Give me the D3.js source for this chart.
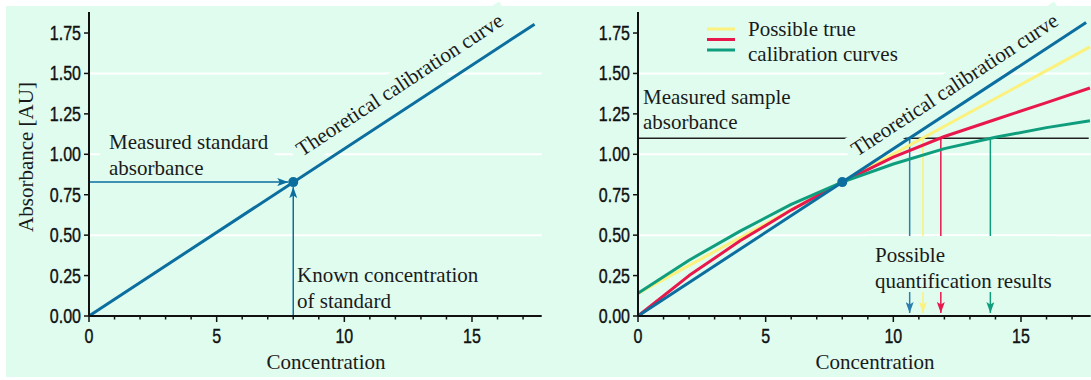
<!DOCTYPE html>
<html>
<head>
<meta charset="utf-8">
<script src="https://cdn.jsdelivr.net/npm/d3@7"></script>
<style>
  body { margin: 0; background: #fff; }
  .tick-label { font-family: "Liberation Sans", Arial, sans-serif; font-size: 20px; fill: #111; }
  .note { font-family: "Liberation Serif", "Times New Roman", serif; font-size: 21px; fill: #1a1a1a; }
</style>
</head>
<body>
<div id="chart"></div>
<script>
// ---- data ----
const concTicks = [0, 5, 10, 15];
const concMinor = [0, 1, 2, 3, 4, 5, 6, 7, 8, 9, 10, 11, 12, 13, 14, 15, 16, 17];
const absTicks = [0, 0.25, 0.5, 0.75, 1.0, 1.25, 1.5, 1.75];
const gridValues = [0.5, 1.0, 1.5];

const theoreticalConc = [0, 17.55];
const theoreticalAbs = [0, 1.815];

const yellowConc = [0, 17.7];
const yellowAbs = [0.14, 1.664];

const redConc = [0, 2, 4, 6, 8, 10, 12, 14, 16, 17.7];
const redAbs = [0, 0.25, 0.465, 0.655, 0.828, 0.982, 1.11, 1.215, 1.32, 1.41];

const greenConc = [0, 2, 4, 6, 8, 10, 12, 14, 16, 17.7];
const greenAbs = [0.14, 0.345, 0.525, 0.69, 0.828, 0.94, 1.035, 1.105, 1.165, 1.208];

const stdConc = 8, stdAbs = 0.828;
const sampleAbs = 1.10;
const quantResults = [10.64, 11.16, 11.86, 13.8];

const legendLabels = ["Possible true", "calibration curves"];

const colors = {
  blue: "#0b6e9f",
  yellow: "#fcf17c",
  red: "#e8184c",
  green: "#0f9d7d",
  bg: "#dffcef"
};
const quantColors = ["#2a7fae", colors.yellow, colors.red, colors.green];

// ---- layout ----
const width = 1091, height = 380;
const svg = d3.select("#chart").append("svg")
  .attr("width", width).attr("height", height);

svg.append("rect").attr("x", 6).attr("y", 6)
  .attr("width", width - 6).attr("height", height - 9)
  .attr("fill", colors.bg);

let defs = svg.append("defs");
function arrowMarker(id, color) {
  defs.append("marker")
    .attr("id", id)
    .attr("markerUnits", "userSpaceOnUse")
    .attr("viewBox", "0 0 11 8")
    .attr("markerWidth", 11).attr("markerHeight", 8)
    .attr("refX", 11).attr("refY", 4)
    .attr("orient", "auto")
    .append("path")
    .attr("d", "M0,0 L11,4 L0,8 L2.5,4 Z")
    .attr("fill", color);
}
arrowMarker("arr-blue", colors.blue);
quantColors.forEach((c, i) => arrowMarker("arr-q" + i, c));

const y = d3.scaleLinear().domain([0, 1.88]).range([316, 12]);

const line = (xs) => d3.line()
  .x(d => xs(d[0]))
  .y(d => y(d[1]));

function zip(a, b) { return a.map((v, i) => [v, b[i]]); }

// multi-line text with a background box the colour of the panel
function note(g, lines, x, yBase, lineH, pad) {
  let grp = g.append("g");
  let bg = grp.append("rect").attr("fill", colors.bg);
  let t = grp.append("text").attr("class", "note");
  lines.forEach((l, i) => {
    t.append("tspan").attr("x", x).attr("y", yBase + i * lineH).text(l);
  });
  let bb = t.node().getBBox();
  bg.attr("x", bb.x - pad[3]).attr("y", bb.y - pad[0])
    .attr("width", bb.width + pad[1] + pad[3])
    .attr("height", bb.height + pad[0] + pad[2]);
  return grp;
}

function drawPanel(x0) {
  const x = d3.scaleLinear().domain([0, 17.73]).range([x0, x0 + 452.7]);
  const g = svg.append("g");

  // white gridlines
  g.selectAll(".grid").data(gridValues).enter().append("line")
    .attr("x1", x(0)).attr("x2", x(17.73))
    .attr("y1", d => y(d)).attr("y2", d => y(d))
    .attr("stroke", "#fff").attr("stroke-width", 2);

  return {x, g};
}

// condensed tick text: regular sans squeezed horizontally
const squeeze = 0.8;

function drawAxes(p) {
  const {x, g} = p;
  // y axis
  g.append("line").attr("x1", x(0)).attr("x2", x(0))
    .attr("y1", y(0)).attr("y2", y(1.88))
    .attr("stroke", "#111").attr("stroke-width", 2);
  g.selectAll(".ytick").data(absTicks).enter().append("line")
    .attr("x1", x(0) - 5).attr("x2", x(0))
    .attr("y1", d => y(d)).attr("y2", d => y(d))
    .attr("stroke", "#111").attr("stroke-width", 1.5);
  g.selectAll(".ylab").data(absTicks).enter().append("text")
    .attr("class", "tick-label")
    .attr("transform", d => `translate(${x(0) - 8},${y(d) + 7}) scale(${squeeze},1)`)
    .attr("text-anchor", "end")
    .style("stroke", "#111").style("stroke-width", 0.4)
    .text(d => d3.format(".2f")(d));

  // x axis
  g.append("line").attr("x1", x(0)).attr("x2", x(17.73))
    .attr("y1", y(0)).attr("y2", y(0))
    .attr("stroke", "#111").attr("stroke-width", 2);
  g.selectAll(".xminor").data(concMinor).enter().append("line")
    .attr("x1", d => x(d)).attr("x2", d => x(d))
    .attr("y1", y(0)).attr("y2", d => y(0) + (concTicks.includes(d) ? 6 : 3.5))
    .attr("stroke", "#111").attr("stroke-width", 1.5);
  g.selectAll(".xlab").data(concTicks).enter().append("text")
    .attr("class", "tick-label")
    .attr("transform", d => `translate(${x(d)},343) scale(${squeeze},1)`)
    .attr("text-anchor", "middle")
    .style("stroke", "#111").style("stroke-width", 0.4)
    .text(d => d);

  g.append("text").attr("class", "note")
    .attr("x", x(0) + 237).attr("y", 369)
    .attr("text-anchor", "middle")
    .text("Concentration");
}

function theoreticalLabel(p, tx, ty) {
  const {x, g} = p;
  const ang = Math.atan2(y(theoreticalAbs[1]) - y(0), x(theoreticalConc[1]) - x(0)) * 180 / Math.PI;
  let grp = g.append("g").attr("transform", `translate(${tx},${ty}) rotate(${ang})`);
  grp.append("rect").attr("x", -6).attr("y", -22).attr("width", 256).attr("height", 32)
    .attr("fill", colors.bg);
  return grp;
}

// ---------- left panel ----------
const L = drawPanel(89);
const lblL = theoreticalLabel(L, 302, 157);
note(L.g, ["Measured standard", "absorbance"], 109, 149, 26, [4, 6, 6, 9]);

L.g.append("path").datum(zip(theoreticalConc, theoreticalAbs).map(d => d[0] > 17.45 ? [17.45, 17.45 * theoreticalAbs[1] / theoreticalConc[1]] : d))
  .attr("d", line(L.x)).attr("fill", "none")
  .attr("stroke", colors.blue).attr("stroke-width", 3);

L.g.append("line")
  .attr("x1", L.x(0)).attr("x2", L.x(stdConc) - 5)
  .attr("y1", y(stdAbs)).attr("y2", y(stdAbs))
  .attr("stroke", colors.blue).attr("stroke-width", 1.5)
  .attr("marker-end", "url(#arr-blue)");
L.g.append("line")
  .attr("x1", L.x(stdConc)).attr("x2", L.x(stdConc))
  .attr("y1", y(0)).attr("y2", y(stdAbs) + 5)
  .attr("stroke", colors.blue).attr("stroke-width", 1.5)
  .attr("marker-end", "url(#arr-blue)");
L.g.append("circle").attr("cx", L.x(stdConc)).attr("cy", y(stdAbs)).attr("r", 5)
  .attr("fill", colors.blue);

lblL.append("text").attr("class", "note").text("Theoretical calibration curve");
note(L.g, ["Known concentration", "of standard"], 297, 282, 26, [0, 0, 0, 0]).select("rect").remove();
drawAxes(L);

L.g.append("text").attr("class", "note")
  .attr("transform", `translate(33,157) rotate(-90)`)
  .attr("text-anchor", "middle")
  .text("Absorbance [AU]");

// ---------- right panel ----------
const R = drawPanel(638);

// measured sample absorbance line
R.g.append("line")
  .attr("x1", R.x(0)).attr("x2", R.x(17.73) - 2)
  .attr("y1", y(sampleAbs)).attr("y2", y(sampleAbs))
  .attr("stroke", "#222").attr("stroke-width", 1.5);

const lblR = theoreticalLabel(R, 857, 157);

// vertical result lines with arrows
R.g.selectAll(".quant").data(quantResults).enter().append("line")
  .attr("x1", d => R.x(d)).attr("x2", d => R.x(d))
  .attr("y1", y(sampleAbs)).attr("y2", y(0) - 3)
  .attr("stroke", (d, i) => quantColors[i]).attr("stroke-width", 1.5)
  .attr("marker-end", (d, i) => `url(#arr-q${i})`);

note(R.g, ["Possible", "quantification results"], 875, 262, 26, [7, 4, -1, 6]);
note(R.g, ["Measured sample", "absorbance"], 643, 104, 25, [0, 0, 0, 0]).select("rect").remove();

const curves = [
  [zip(yellowConc, yellowAbs), colors.yellow],
  [zip(redConc, redAbs), colors.red],
  [zip(greenConc, greenAbs), colors.green],
  [zip(theoreticalConc, theoreticalAbs), colors.blue]
];
R.g.selectAll(".curve").data(curves).enter().append("path")
  .attr("d", d => line(R.x)(d[0]))
  .attr("fill", "none")
  .attr("stroke", d => d[1]).attr("stroke-width", 3)
  .attr("stroke-linejoin", "round");

R.g.append("circle").attr("cx", R.x(stdConc)).attr("cy", y(stdAbs)).attr("r", 5)
  .attr("fill", colors.blue);

lblR.append("text").attr("class", "note").text("Theoretical calibration curve");

// legend
const legendColors = [colors.yellow, colors.red, colors.green];
R.g.selectAll(".leg").data(legendColors).enter().append("line")
  .attr("x1", 707).attr("x2", 735)
  .attr("y1", (d, i) => 29 + i * 10.5).attr("y2", (d, i) => 29 + i * 10.5)
  .attr("stroke", d => d).attr("stroke-width", 3);
note(R.g, legendLabels, 748, 36, 25, [0, 0, 0, 0]).select("rect").remove();

drawAxes(R);
</script>
</body>
</html>
